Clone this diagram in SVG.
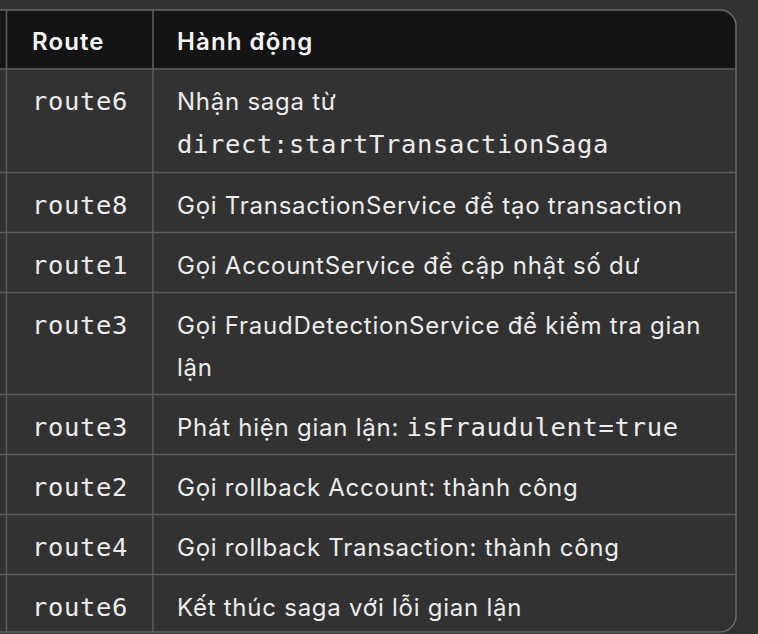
<svg xmlns="http://www.w3.org/2000/svg" width="758" height="634" viewBox="0 0 758 634">
<style>
.t{font-family:Inter,"Liberation Sans","Noto Sans",sans-serif;font-size:24px;letter-spacing:0.75px;fill:#ececec}
.h{font-weight:600;fill:#f4f4f4;letter-spacing:1.1px}
.m{font-family:"DejaVu Sans Mono","Liberation Mono",monospace;font-size:25.5px;letter-spacing:0.65px;fill:#ececec}
.g{stroke:#5c5c5c;stroke-width:1.5;fill:none}
.f{stroke:#6a6a6a;stroke-width:1.5;fill:none}
</style>
<defs>
<clipPath id="c"><path d="M-20,10 H720 A16,16 0 0 1 736,26 V616 A16,16 0 0 1 720,632 H-20 Z"/></clipPath>
</defs>
<rect x="0" y="0" width="758" height="634" fill="#323232"/>
<g clip-path="url(#c)">
<rect x="-20" y="10" width="760" height="59" fill="#141414"/>
</g>
<g id="grid">
<path class="g" d="M0,69 H736 M0,172.5 H736 M0,232.5 H736 M0,292.5 H736 M0,394.5 H736 M0,454.5 H736 M0,514.5 H736 M0,574.5 H736"/>
<path class="g" d="M6.5,10 V632 M153,10 V632"/>
<path class="f" d="M0,10 H720 A16,16 0 0 1 736,26 V616 A16,16 0 0 1 720,632 H0"/>
</g>
<g id="header">
<text class="t h" x="32" y="50">Route</text>
<text class="t h" x="177" y="50">Hành động</text>
</g>
<g id="row1">
<text class="m" x="32" y="110">route6</text>
<text class="t" x="177" y="110">Nhận saga từ</text>
<text class="m" x="177" y="153">direct:startTransactionSaga</text>
</g>
<g id="row2">
<text class="m" x="32" y="213.5">route8</text>
<text class="t" x="177" y="213.5">Gọi TransactionService để tạo transaction</text>
</g>
<g id="row3">
<text class="m" x="32" y="273.5">route1</text>
<text class="t" x="177" y="273.5">Gọi AccountService để cập nhật số dư</text>
</g>
<g id="row4">
<text class="m" x="32" y="333.5">route3</text>
<text class="t" x="177" y="333.5">Gọi FraudDetectionService để kiểm tra gian</text>
<text class="t" x="177" y="376">lận</text>
</g>
<g id="row5">
<text class="m" x="32" y="436">route3</text>
<text class="t" x="177" y="436">Phát hiện gian lận: <tspan class="m">isFraudulent=true</tspan></text>
</g>
<g id="row6">
<text class="m" x="32" y="496">route2</text>
<text class="t" x="177" y="496">Gọi rollback Account: thành công</text>
</g>
<g id="row7">
<text class="m" x="32" y="556">route4</text>
<text class="t" x="177" y="556">Gọi rollback Transaction: thành công</text>
</g>
<g id="row8">
<text class="m" x="32" y="616">route6</text>
<text class="t" x="177" y="616">Kết thúc saga với lỗi gian lận</text>
</g>
</svg>
